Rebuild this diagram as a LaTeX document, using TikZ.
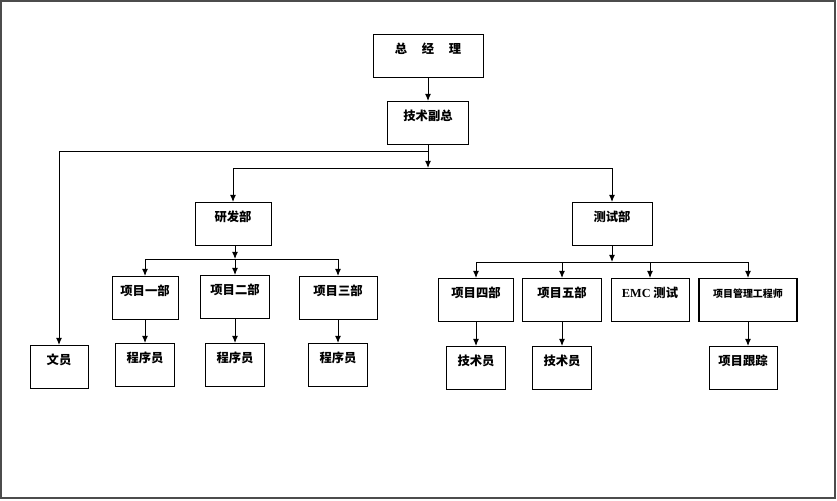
\documentclass[tikz,border=0pt]{standalone}
\usepackage{fontspec}
\setmainfont{Liberation Serif}
\newfontfamily\cjk{Noto Sans CJK SC}
\usetikzlibrary{arrows.meta}

\begin{document}
\begin{tikzpicture}[
x=0.03cm, y=-0.03cm,
>={Latex[length=6pt,width=5pt]},
box/.style={draw, anchor=north, inner sep=0pt, line width=0.7pt, text height=0.57cm, text depth=0.72cm, font=\cjk\bfseries\fontsize{10.5}{12}\selectfont},
wide/.style={line width=1.1pt},
link/.style={->, line width=0.8pt}
]
\useasboundingbox (0,0) rectangle (837,500);
\draw[line width=1.2pt, black!70] (1,1) rectangle (835,498);

% top
\node (zjl) at (428,34) [box, minimum width=3.3cm] {总\hspace{1.2em}经\hspace{1.2em}理};
\node (fz) at (428,101) [box, minimum width=2.43cm] {技术副总};
\node (wy) at (59,345) [box, minimum width=1.74cm] {文员};
\node (yfb) at (233,202) [box, minimum width=2.28cm] {研发部};
\node (csb) at (612,202) [box, minimum width=2.4cm] {测试部};

% 研发部
\node (xm1) at (145,276) [box, minimum width=1.98cm] {项目一部};
\node (xm2) at (235,275) [box, minimum width=2.07cm] {项目二部};
\node (xm3) at (338,276) [box, minimum width=2.34cm] {项目三部};
\node (cx1) at (145,343) [box, minimum width=1.77cm] {程序员};
\node (cx2) at (235,343) [box, minimum width=1.77cm] {程序员};
\node (cx3) at (338,343) [box, minimum width=1.77cm] {程序员};

% 测试部
\node (xm4) at (476,278) [box, minimum width=2.25cm] {项目四部};
\node (xm5) at (562,278) [box, wide, minimum width=2.37cm] {项目五部};
\node (emc) at (650,278) [box, minimum width=2.34cm] {{\rmfamily EMC} 测试};
\node (gl) at (748,278) [box, wide, minimum width=2.94cm, font=\cjk\bfseries\fontsize{8.5}{10}\selectfont] {项目管理工程师};
\node (js1) at (476,346) [box, minimum width=1.77cm] {技术员};
\node (js2) at (562,346) [box, minimum width=1.77cm] {技术员};
\node (gz) at (743,346) [box, minimum width=2.04cm] {项目跟踪};

\coordinate (j0) at (428,151);
\coordinate (j1) at (428,168);
\coordinate (j2) at (235,259);
\coordinate (j3) at (612,262);

\draw[link] (zjl) -- (fz);
\draw[link] (fz) -- (j1);
\draw[link] (j0) -| (wy.north);
\draw[link] (j1) -| (yfb.north);
\draw[link] (j1) -| (csb.north);
\draw[link] (yfb.south -| j2) -- (j2);
\foreach \n in {xm1,xm2,xm3}
	\draw[link] (j2) -| (\n.north);
\draw[link] (csb) -- (j3);
\foreach \n in {xm4,xm5,emc,gl}
	\draw[link] (j3) -| (\n.north);
\foreach \a/\b in {xm1/cx1, xm2/cx2, xm3/cx3, xm4/js1, xm5/js2}
	\draw[link] (\a) -- (\b);
\draw[link] (gl) -- (gl |- gz.north);
\end{tikzpicture}
\end{document}
